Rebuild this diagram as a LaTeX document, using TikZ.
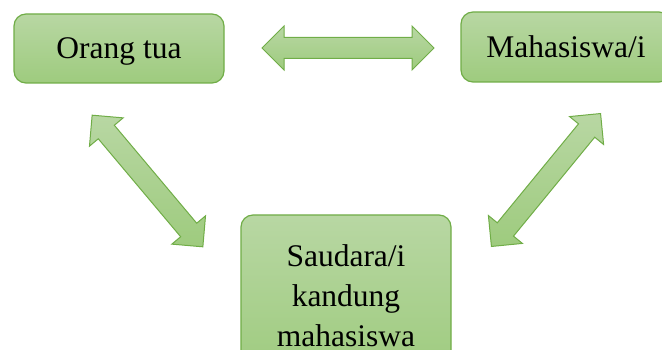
\documentclass[tikz,border=0pt]{standalone}
\usepackage{fontspec}
\setmainfont{Liberation Serif}
\usetikzlibrary{shapes.arrows}
\definecolor{boxtop}{RGB}{184,215,163}
\definecolor{boxbot}{RGB}{158,203,126}
\definecolor{boxline}{RGB}{112,173,71}
\tikzstyle{box} = [rectangle, rounded corners=12pt, draw=boxline, line width=1.2pt,
  top color=boxtop, bottom color=boxbot, minimum width=210pt, align=center,
  font=\fontsize{31.5}{40}\selectfont]
\tikzstyle{dblarrow} = [double arrow, draw=boxline, line width=1pt, inner xsep=0pt,
  inner ysep=10pt, top color=boxtop, bottom color=boxbot, minimum height=172pt,
  double arrow head extend=11.5pt]

\begin{document}
\begin{tikzpicture}[x=1pt,y=-1pt]
\clip (0,0) rectangle (662,350);

\node[box, minimum height=69pt, text depth=0pt] (ortu) at (119,48.5) {Orang tua};
\node[box, minimum height=70pt, text depth=0pt] (mhs) at (566,47) {Mahasiswa/i};
\node[box, minimum height=162pt, text width=190pt] (sdr) at (346,296) {Saudara/i\\kandung\\mahasiswa};

% arrow ends
\coordinate (h1) at (262,48);
\coordinate (h2) at (434,48);
\coordinate (l1) at (92,115);
\coordinate (l2) at (203,247);
\coordinate (r1) at (601,113);
\coordinate (r2) at (491,247);

\path (h1) -- (h2) node[midway, sloped, dblarrow] (ortu-mhs) {};
\path (l1) -- (l2) node[midway, sloped, dblarrow] (ortu-sdr) {};
\path (r2) -- (r1) node[midway, sloped, dblarrow] (mhs-sdr) {};

\end{tikzpicture}
\end{document}
